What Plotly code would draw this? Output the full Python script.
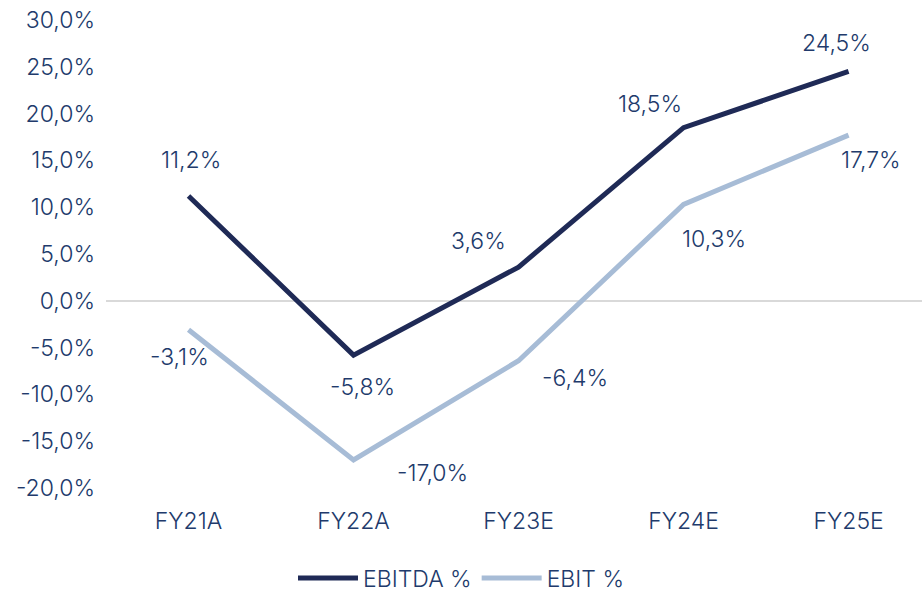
import plotly.graph_objects as go

categories = ["FY21A", "FY22A", "FY23E", "FY24E", "FY25E"]
ebitda = [11.2, -5.8, 3.6, 18.5, 24.5]
ebit = [-3.1, -17.0, -6.4, 10.3, 17.7]
y_ticks = [-20, -15, -10, -5, 0, 5, 10, 15, 20, 25, 30]

NAVY = "#1f2a56"
LIGHT = "#a7bcd6"
TXT = "#213a6b"
FONT = "Inter"
FS = 23
FW = 300

def fmt(v):
    return f"{v:.1f}".replace(".", ",") + "%"

fig = go.Figure()
fig.add_trace(go.Scatter(x=categories, y=ebitda, mode="lines", name="EBITDA %",
                         line=dict(color=NAVY, width=5)))
fig.add_trace(go.Scatter(x=categories, y=ebit, mode="lines", name="EBIT %",
                         line=dict(color=LIGHT, width=5)))

ebitda_off = [(2, 36), (9, -32), (-40, 26), (-34, 24), (-12, 28)]
ebit_off = [(-9, -27), (79, -13), (56, -17), (30, -35), (22, -25)]
for series, offs in ((ebitda, ebitda_off), (ebit, ebit_off)):
    for c, v, (dx, dy) in zip(categories, series, offs):
        fig.add_annotation(x=c, y=v, text=fmt(v), showarrow=False,
                           xshift=dx, yshift=dy,
                           font=dict(family=FONT, size=FS, color=TXT, weight=FW))

fig.update_layout(
    width=922, height=595,
    margin=dict(l=106, r=0, t=20, b=107, autoexpand=False),
    paper_bgcolor="white", plot_bgcolor="white",
    font=dict(family=FONT, size=FS, color=TXT, weight=FW),
    showlegend=True,
    legend=dict(orientation="h", xref="container", x=0.5, xanchor="center",
                yref="container", y=(595 - 578) / 595, yanchor="middle",
                itemwidth=60,
                font=dict(family=FONT, size=FS, color=TXT, weight=FW)),
)
fig.update_xaxes(type="category", range=[-0.5, 4.445], showgrid=False,
                 showline=False, zeroline=False, ticks="", automargin=False,
                 ticklabelstandoff=17,
                 tickfont=dict(family=FONT, size=FS, color=TXT, weight=FW))
fig.update_yaxes(range=[-20, 30], tickvals=y_ticks,
                 ticktext=[fmt(v) for v in y_ticks],
                 showgrid=False, zeroline=True, zerolinecolor="#d9d9d9",
                 zerolinewidth=2, showline=False, ticks="", automargin=False,
                 ticklabelstandoff=10,
                 tickfont=dict(family=FONT, size=FS, color=TXT, weight=FW))

fig.write_html("out.html", config={"displayModeBar": False},
               post_script="document.body.style.margin='0';document.body.style.overflow='hidden';")
